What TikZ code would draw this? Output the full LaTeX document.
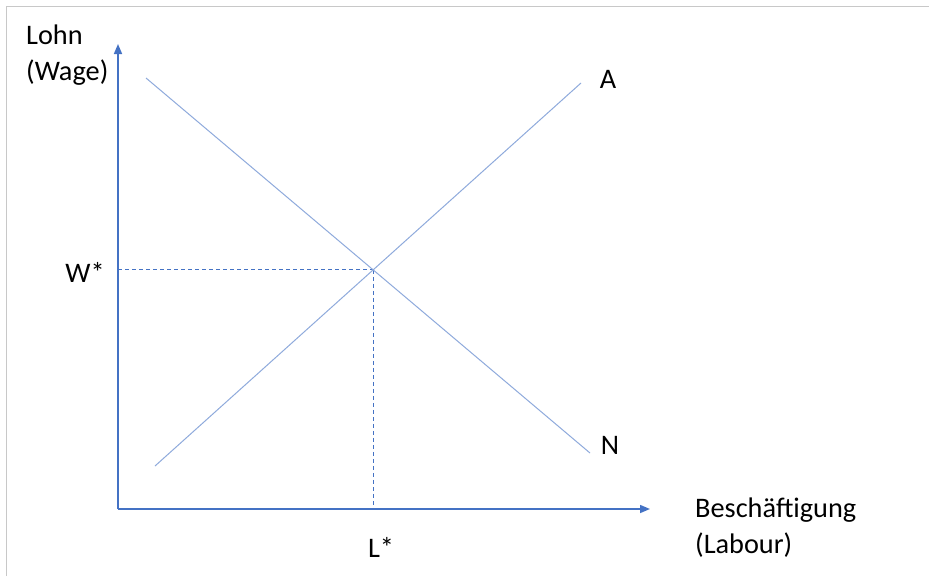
\documentclass[tikz,border=0pt]{standalone}
\usepackage{fontspec}
\setmainfont{Carlito}
\usetikzlibrary{arrows.meta}
\definecolor{axisblue}{HTML}{4472C4}
\definecolor{curveblue}{HTML}{8FAADC}
\definecolor{framegray}{HTML}{C8C8C8}
\tikzset{
  axisline/.style={draw=axisblue,line width=1.5pt,-{Triangle[length=10pt,width=8pt]}},
  curveline/.style={draw=curveblue,line width=1pt},
  guideline/.style={draw=axisblue,line width=1.2pt,dash pattern=on 4pt off 3pt},
  lbl/.style={font=\fontsize{28.3}{36}\selectfont,inner sep=0pt,text=black},
}
\begin{document}
\begin{tikzpicture}[x=1pt,y=-1pt]
\useasboundingbox (0,0) rectangle (929,576);
\fill[white] (0,0) rectangle (929,576);
\draw[framegray,line width=1.5pt] (6.5,576) -- (6.5,6.5) -- (929,6.5);
% points
\coordinate (O) at (118,509);
\coordinate (ytip) at (118,44);
\coordinate (xtip) at (650,509);
\coordinate (N1) at (146,78);
\coordinate (N2) at (590,453);
\coordinate (A1) at (155,466);
\coordinate (A2) at (581,83);
\coordinate (E) at (intersection of N1--N2 and A1--A2);
\coordinate (Wy) at (O |- E);
\coordinate (Lx) at (E |- O);
% guides
\draw[guideline] (Wy) -- (E);
\draw[guideline] (E) -- (Lx);
% curves
\draw[curveline] (N1) -- (N2);
\draw[curveline] (A1) -- (A2);
% axes
\draw[axisline] (O) -- (ytip);
\draw[axisline] (O) -- (xtip);
% labels
\node[lbl,anchor=north west,align=left] (ylab) at (26,25) {Lohn\\(Wage)};
\node[lbl,anchor=north west,align=left] (xlab) at (695,498) {Beschäftigung\\(Labour)};
\node[lbl] (wstar) at (85,272) {W*};
\node[lbl] (lstar) at (381,547) {L*};
\node[lbl] (alab) at (608,79) {A};
\node[lbl] (nlab) at (610,445) {N};
\end{tikzpicture}
\end{document}
